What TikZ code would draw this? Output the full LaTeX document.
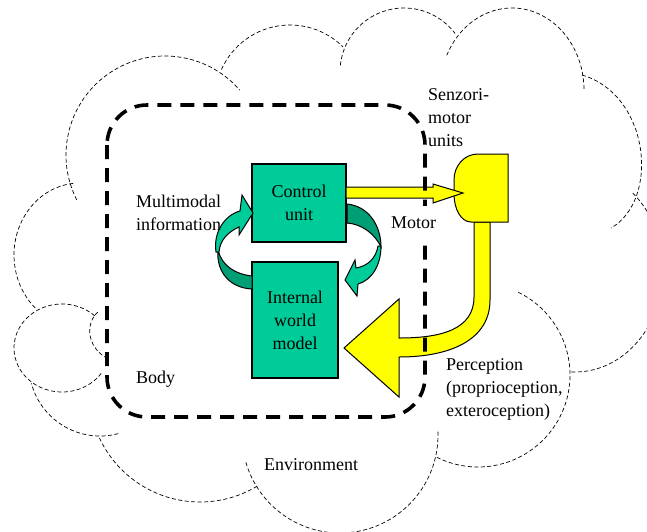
\documentclass[tikz,border=0pt]{standalone}
\usepackage{fontspec}
\setmainfont{Liberation Serif}
\usetikzlibrary{calc}
\definecolor{tealA}{RGB}{0,204,153}
\definecolor{tealB}{RGB}{0,158,116}
\definecolor{yel}{RGB}{255,255,0}
\newcommand{\lobe}[6]{\draw[cloudline] (#1,#2) ++(#5:#3 and #4) arc[start angle=#5, end angle=#6, x radius=#3, y radius=#4];}
\begin{document}
\begin{tikzpicture}[x=1pt,y=-1pt,
  cloudline/.style={line width=0.7pt, dash pattern=on 4pt off 2.5pt},
  bodyline/.style={line width=3.6pt, dash pattern=on 14pt off 9pt},
  boxstyle/.style={draw=black, line width=1.2pt, fill=tealA, inner sep=0pt, align=center, font=\fontsize{18}{23}\selectfont},
  lbl/.style={inner sep=0pt, align=left, font=\fontsize{18}{23}\selectfont},
  yarrow/.style={fill=yel, draw=black, line width=1pt, line join=miter},
  tfront/.style={fill=tealA, draw=black, line width=1pt},
  tback/.style={fill=tealB, draw=black, line width=1pt}]

\useasboundingbox (0,0) rectangle (647,531);
% environment cloud
\begin{scope}
\clip (0,0) rectangle (647,531);
\lobe{80}{255}{66}{72}{264}{131}
\lobe{165}{155}{99}{99}{153}{319}
\lobe{290}{100}{75}{75}{204}{315}
\lobe{404}{72}{64}{64}{186}{323}
\lobe{512}{90}{72}{82}{205}{360}
\draw[cloudline] (582,75) .. controls (650,95) and (660,200) .. (611,228);
\lobe{575}{270}{88}{102}{-49}{93}
\lobe{478}{375}{92}{92}{-64}{117}
\lobe{340}{435}{98}{98}{-2}{164}
\lobe{200}{391}{111}{111}{59}{155}
\lobe{100}{365}{71}{71}{75}{165}
\lobe{62}{348}{48}{44}{-47}{-325}
\draw[cloudline] (98,312) .. controls (86,322) and (86,345) .. (105,357);
\end{scope}

% boxes
\node[boxstyle, minimum width=94pt, minimum height=78pt] (ctrl) at (299,203) {Control\\unit};
\node[boxstyle, minimum width=86pt, minimum height=116pt] (iwm) at (295,320) {Internal\\world\\model};

% teal curved arrows
\draw[tback] (252,276) .. controls (235,274) and (222,266) .. (218,250) .. controls (216,272) and (230,288) .. (252,289) -- cycle;
\draw[tfront] (216,252) .. controls (213,232) and (225,215) .. (240,211) -- (242,195) -- (253,213) -- (239,235) -- (239,227) .. controls (228,232) and (220,240) .. (219,252) -- cycle;
\draw[tback] (347,204) .. controls (368,206) and (381,225) .. (381,247) .. controls (375,234) and (362,224) .. (347,223) -- cycle;
\draw[tfront] (378,246) .. controls (376,258) and (368,266) .. (356,268) -- (355,260) -- (345,280) -- (357,296) -- (358,284) .. controls (372,280) and (381,265) .. (381,246) -- cycle;

% yellow arrows and sensorimotor unit
\draw[yarrow] (474,222) -- (474,297) .. controls (474,330) and (440,338) .. (399,338) -- (399,299) -- (344,348) -- (399,397) -- (399,357) .. controls (450,357) and (490,340) .. (490,300) -- (490,222) -- cycle;
\draw[yarrow] (508,154) -- (478,154) .. controls (464,154) and (454,166) .. (454,180) -- (454,194) .. controls (454,209) and (461,222) .. (471,222) -- (508,222) -- cycle;
\draw[yarrow] (346,187) -- (433,187) -- (433,184) -- (463,193) -- (433,203) -- (433,198) -- (346,198) -- cycle;

% body
\draw[bodyline, rounded corners=40pt] (107,105) rectangle (425,417);

% labels
\node[lbl, anchor=north west] (senz) at (428,88.5) {Senzori-\\motor\\units};
\node[lbl, anchor=base west, fill=white, inner xsep=3pt, inner ysep=10pt, text height=12.5pt, text depth=4pt] (motor) at (388,228) {Motor};
\node[lbl, anchor=north west] (mm) at (136,195) {Multimodal\\information};
\node[lbl, anchor=base west] (body) at (136,383) {Body};
\node[lbl, anchor=base west] (env) at (264,470) {Environment};
\node[lbl, anchor=north west] (perc) at (446,358) {Perception\\(proprioception,\\exteroception)};
\end{tikzpicture}
\end{document}
